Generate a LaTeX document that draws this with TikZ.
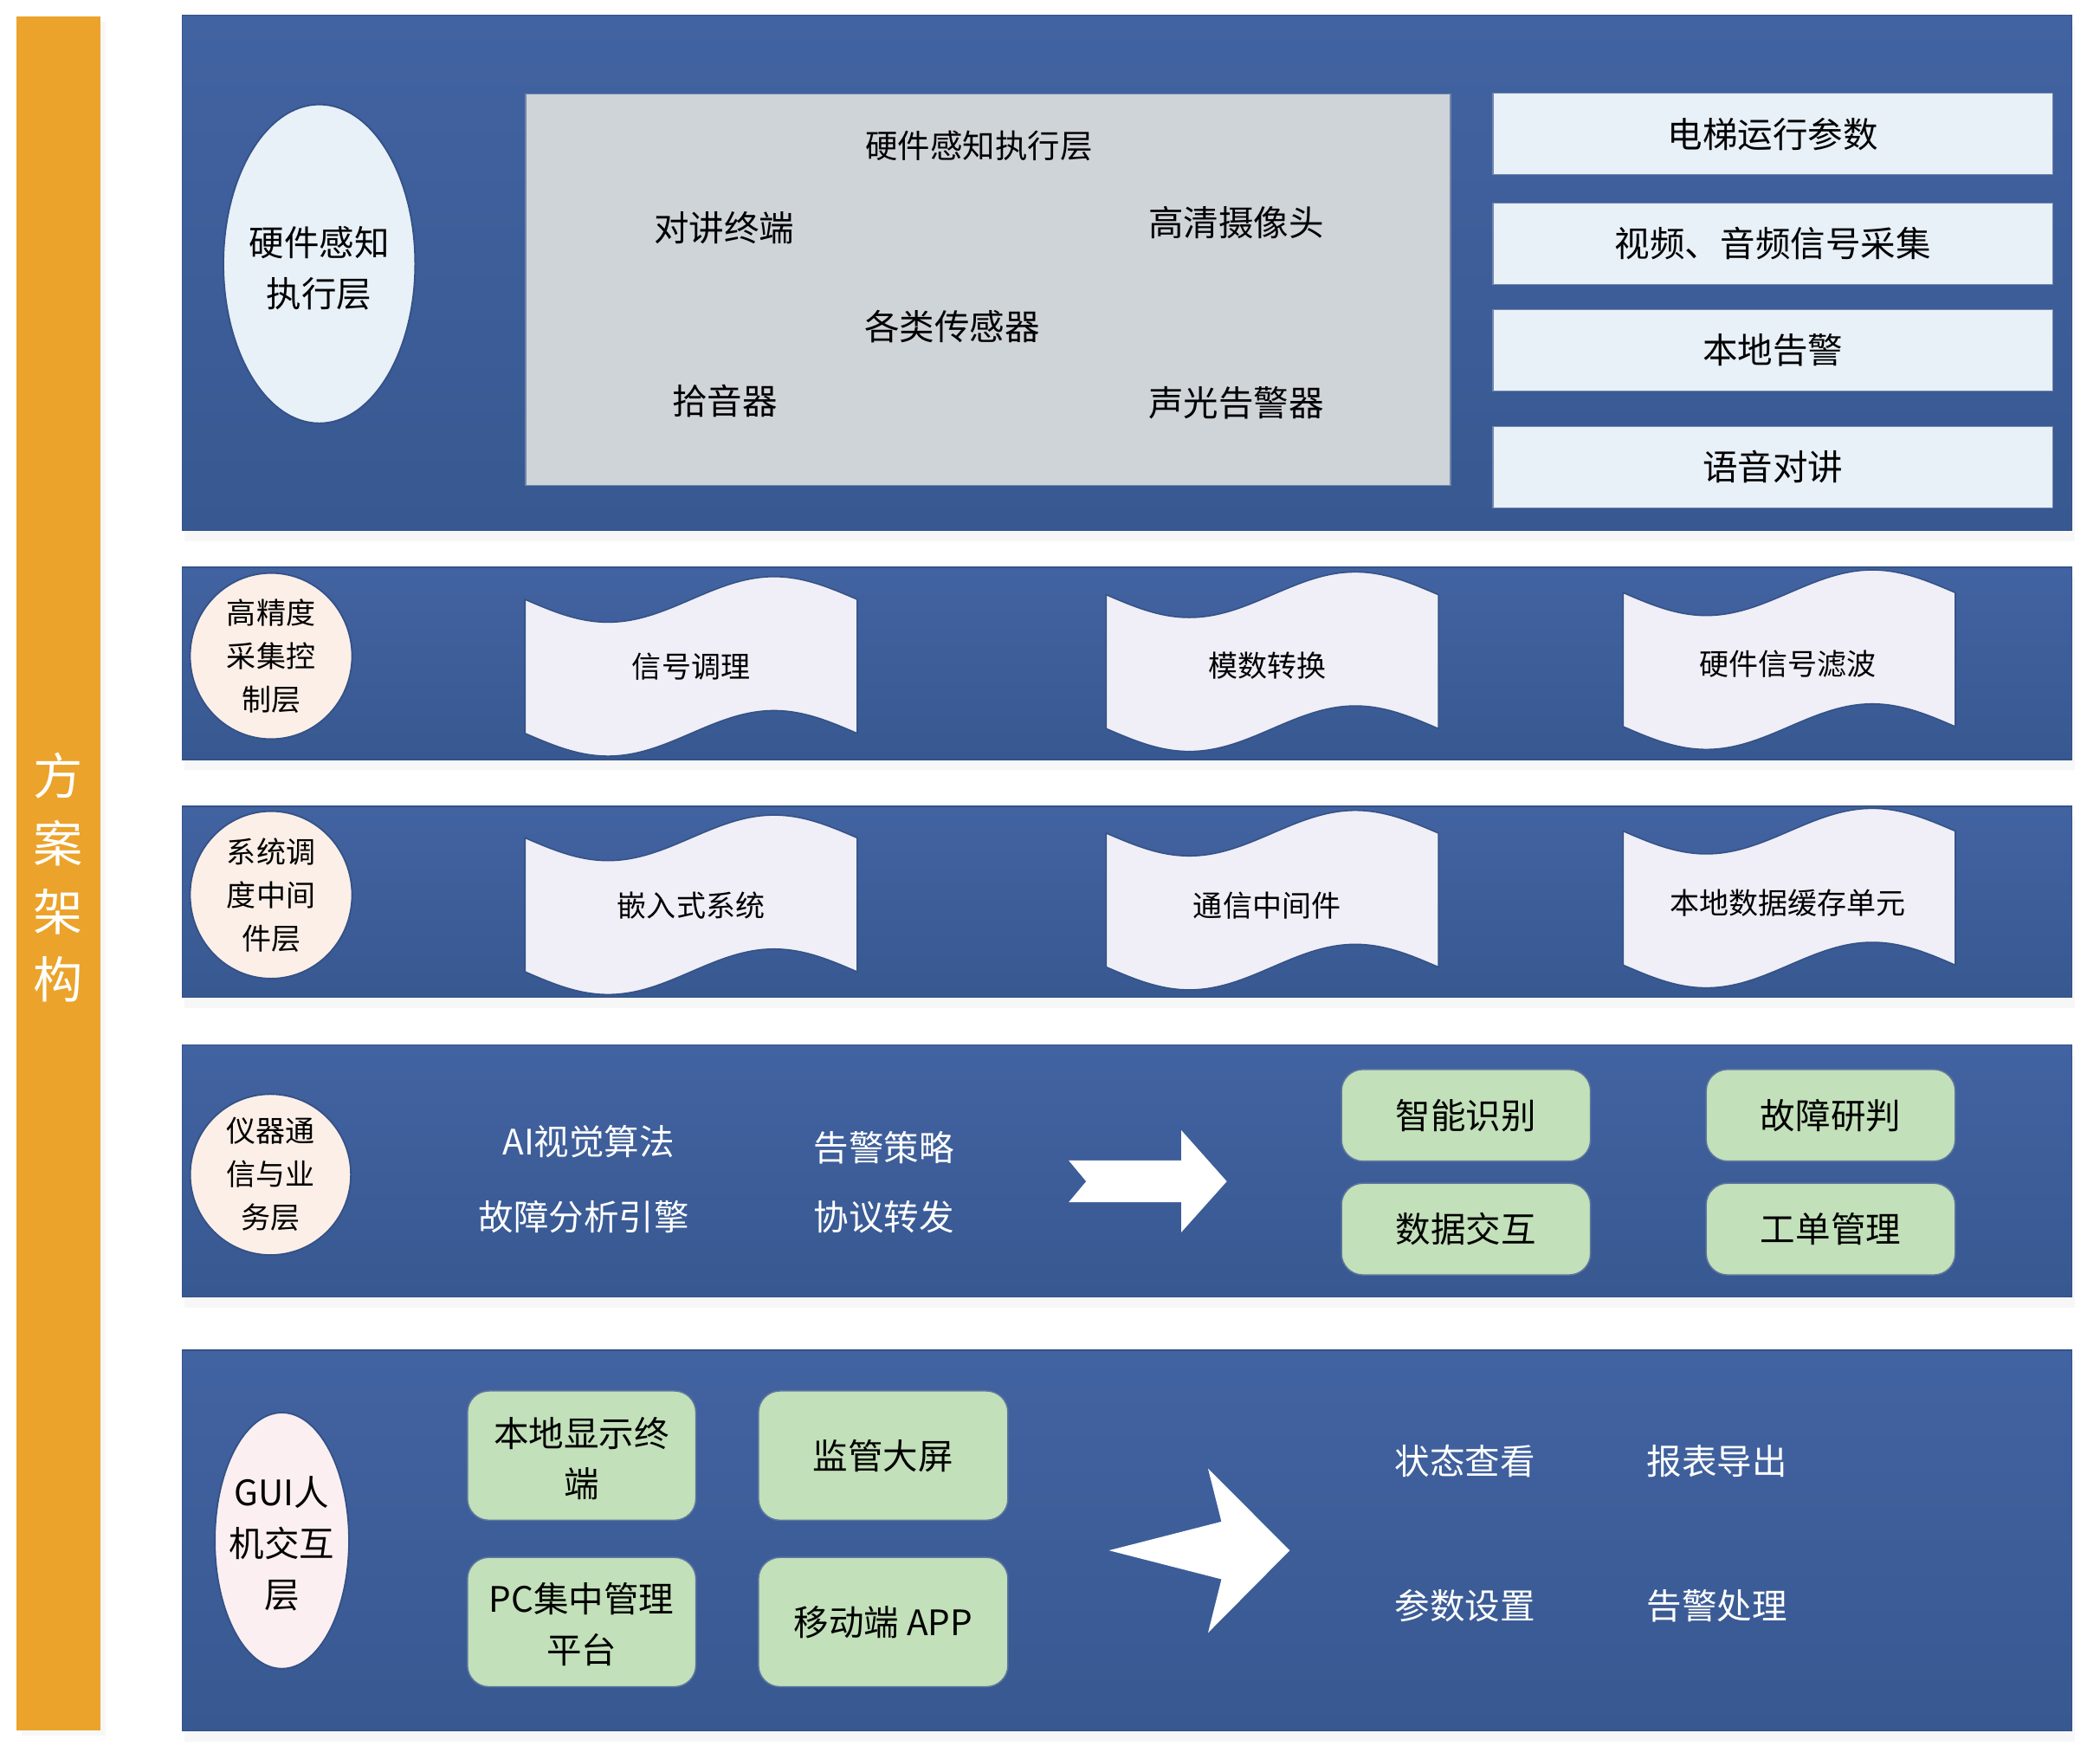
\documentclass[tikz,border=0pt]{standalone}
\usepackage{fontspec}
\newfontfamily\cjk{Noto Sans CJK SC}
\usetikzlibrary{shapes.geometric,shadows}
\definecolor{orangebar}{RGB}{235,163,43}
\definecolor{paneltop}{RGB}{66,99,161}
\definecolor{panelbot}{RGB}{55,88,144}
\definecolor{edgeblue}{RGB}{52,82,135}
\definecolor{lightblue}{RGB}{232,240,248}
\definecolor{greybox}{RGB}{207,212,217}
\definecolor{peach}{RGB}{252,239,232}
\definecolor{pinkish}{RGB}{252,239,241}
\definecolor{wavefill}{RGB}{240,238,246}
\definecolor{greenbox}{RGB}{194,224,185}
% #1 name, #2 x0, #3 ytop, #4 text x, #5 text y, #6 text
\newcommand\wavebox[6]{%
  \filldraw[wave] (#2,#3) sin ++(62,17) cos ++(62,-17) sin ++(62,-17) cos ++(62,17)
    -- ++(0,100) sin ++(-62,-17) cos ++(-62,17) sin ++(-62,17) cos ++(-62,-17) -- cycle;
  \node[t11] (#1) at (#4,#5) {#6};
}
\begin{document}
\begin{tikzpicture}[x=0.5pt,y=-0.5pt,
  t13/.style={font=\cjk\fontsize{13.1pt}{19pt}\selectfont, inner sep=0pt, align=center, text=black},
  t12/.style={font=\cjk\fontsize{12.1pt}{18pt}\selectfont, inner sep=0pt, align=center, text=black},
  t11/.style={font=\cjk\fontsize{11pt}{16.15pt}\selectfont, inner sep=0pt, align=center, text=black},
  w13/.style={t13, text=white},
  bar/.style={rectangle, fill=orangebar, inner sep=0pt, minimum width=31.5pt, minimum height=640pt,
    drop shadow={opacity=0.06, shadow xshift=2pt, shadow yshift=-2pt}},
  bartext/.style={font=\cjk\fontsize{18.5pt}{25.3pt}\selectfont, inner sep=0pt, align=center, text=white},
  panel/.style={rectangle, inner sep=0pt, top color=paneltop, bottom color=panelbot, draw=edgeblue,
    line width=0.4pt, minimum width=705.5pt,
    drop shadow={opacity=0.06, shadow xshift=1pt, shadow yshift=-4pt}},
  ell/.style={ellipse, inner sep=0pt, draw=edgeblue, line width=0.6pt, align=center},
  greyrect/.style={rectangle, inner sep=0pt, fill=greybox, draw=edgeblue!70, line width=0.4pt},
  rbox/.style={rectangle, t13, fill=lightblue, draw=edgeblue!70, line width=0.4pt,
    minimum width=209pt, minimum height=30.4pt},
  wave/.style={fill=wavefill, draw=edgeblue, line width=0.5pt},
  gbox/.style={rectangle, rounded corners=8pt, t13, fill=greenbox, draw=edgeblue!80, line width=0.5pt},
  arrowshape/.style={fill=white, draw=none}
]
\useasboundingbox (0,0) rectangle (1568,1313);
\fill[white] (0,0) rectangle (1568,1313);

% left title bar
\node[bar] (bar) at (43.5,652) {};
\node[bartext] (bartitle) at (43.5,655) {方\\案\\架\\构};

% ---------- panel 1 ----------
\node[panel, minimum height=192.25pt] (p1) at (841.5,203.75) {};
\node[ell, fill=lightblue, minimum width=71.6pt, minimum height=119pt] (e1) at (238.4,197) {};
\node[t13] (e1text) at (238.4,200.5) {硬件感知\\执行层};
\node[greyrect, minimum width=345.25pt, minimum height=146.25pt] (grey) at (737.75,216.25) {};
\node[t12] (g0) at (731,108.8) {硬件感知执行层};
\node[t13] (g1) at (540.6,170.3) {对讲终端};
\node[t13] (g2) at (922.9,166) {高清摄像头};
\node[t13] (g3) at (711,243.5) {各类传感器};
\node[t13] (g4) at (541.3,299.6) {拾音器};
\node[t13] (g5) at (922.9,300.5) {声光告警器};
\node[rbox] (r1) at (1323.75,100.1) {电梯运行参数};
\node[rbox] (r2) at (1323.75,181.8) {视频、音频信号采集};
\node[rbox] (r3) at (1323.75,261.45) {本地告警};
\node[rbox] (r4) at (1323.75,348.6) {语音对讲};

% ---------- panel 2 ----------
\node[panel, minimum height=71.75pt] (p2) at (841.5,495.25) {};
\node[ell, t11, fill=peach, minimum width=60.5pt, minimum height=62pt] (c2) at (202.4,489.8) {高精度\\采集控\\制层};
\wavebox{w21}{392}{447.5}{516}{497.5}{信号调理}
\wavebox{w22}{826}{444}{946}{497}{模数转换}
\wavebox{w23}{1212}{442.5}{1335}{496}{硬件信号滤波}

% ---------- panel 3 ----------
\node[panel, minimum height=71.35pt] (p3) at (841.5,673.35) {};
\node[ell, t11, fill=peach, minimum width=60.5pt, minimum height=62.5pt] (c3) at (202.4,668.1) {系统调\\度中间\\件层};
\wavebox{w31}{392}{625.5}{516}{676}{嵌入式系统}
\wavebox{w32}{826}{622}{946}{676}{通信中间件}
\wavebox{w33}{1212}{620.5}{1335}{674}{本地数据缓存单元}

% ---------- panel 4 ----------
\node[panel, minimum height=94.2pt] (p4) at (841.5,874.2) {};
\node[ell, t11, fill=peach, minimum width=60pt, minimum height=57.5pt] (c4) at (202,876.9) {仪器通\\信与业\\务层};
\node[w13] (a1) at (439.5,852.3) {AI视觉算法};
\node[w13] (a2) at (436,908.5) {故障分析引擎};
\node[w13] (a3) at (660,857) {告警策略};
\node[w13] (a4) at (660,908.5) {协议转发};
\filldraw[arrowshape] (798,866.4) -- (882,866.4) -- (882,843.8) -- (916,882) -- (882,920)
  -- (882,897.5) -- (798,897.5) -- (811,882) -- cycle;
\node[gbox, minimum width=93pt, minimum height=34.25pt] (s1) at (1094.6,832.65) {智能识别};
\node[gbox, minimum width=93pt, minimum height=34.25pt] (s2) at (1366.9,832.65) {故障研判};
\node[gbox, minimum width=93pt, minimum height=34.25pt] (s3) at (1094.6,917.6) {数据交互};
\node[gbox, minimum width=93pt, minimum height=34.25pt] (s4) at (1366.9,917.6) {工单管理};

% ---------- panel 5 ----------
\node[panel, minimum height=142pt] (p5) at (841.5,1150) {};
\node[ell, fill=pinkish, minimum width=50.1pt, minimum height=95.6pt] (e5) at (210.5,1150.2) {};
\node[t13] (e5text) at (210.5,1152.5) {GUI人\\机交互\\层};
\node[gbox, minimum width=85.3pt, minimum height=48.3pt] (b1) at (434.3,1086.7) {};
\node[t13] (b1text) at (434.3,1089) {本地显示终\\端};
\node[gbox, minimum width=93.15pt, minimum height=48.3pt] (b2) at (659.45,1086.7) {监管大屏};
\node[gbox, minimum width=85.3pt, minimum height=48.3pt] (b3) at (434.3,1211) {};
\node[t13] (b3text) at (434.3,1212.5) {PC集中管理\\平台};
\node[gbox, minimum width=93.15pt, minimum height=48.3pt] (b4) at (659.45,1211) {移动端 APP};
\filldraw[arrowshape] (902,1096.4) -- (963,1157.5) -- (902,1219) -- (912,1179) -- (828,1157.5)
  -- (912,1136) -- cycle;
\node[w13] (u1) at (1094,1091) {状态查看};
\node[w13] (u2) at (1282,1091) {报表导出};
\node[w13] (u3) at (1094,1199) {参数设置};
\node[w13] (u4) at (1282,1199) {告警处理};
\end{tikzpicture}
\end{document}
